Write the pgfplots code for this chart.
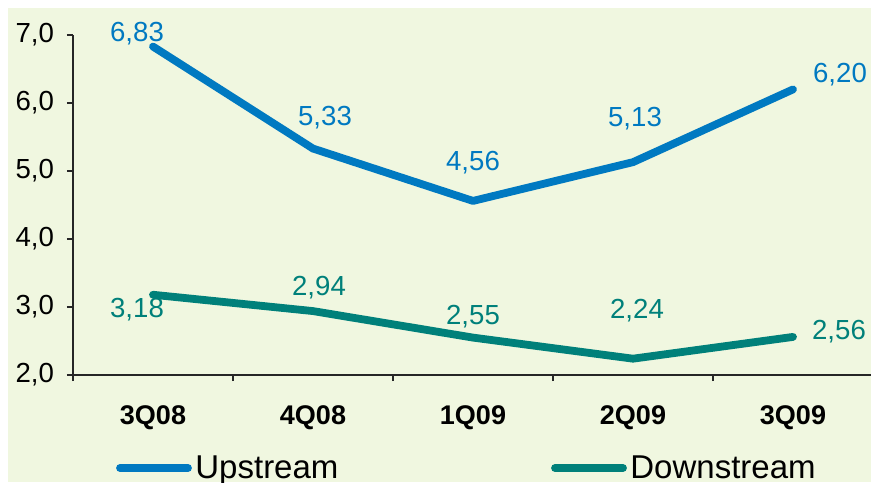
\documentclass[border=0pt]{standalone}
\usepackage{pgfplots}
\pgfplotsset{compat=1.18}
\usepackage{fontspec}
\setmainfont{Liberation Sans}
\definecolor{bgc}{RGB}{240,247,224}
\definecolor{upc}{RGB}{0,121,193}
\definecolor{dnc}{RGB}{0,128,122}
\begin{document}
\begin{tikzpicture}
\useasboundingbox (-36.5pt,-53.5pt) rectangle (399pt,187.5pt);
\fill[bgc] (-32.5pt,-53.5pt) rectangle (399pt,183.5pt);
\begin{axis}[
  scale only axis, width=400pt, height=170pt,
  at={(0,0)}, anchor=south west,
  xmin=-0.5, xmax=4.5, ymin=2, ymax=7,
  axis lines*=left,
  axis line style={-, black!85, line width=0.6pt},
  xtick={0,1,2,3,4},
  xticklabels={3Q08,4Q08,1Q09,2Q09,3Q09},
  minor xtick={-0.5,0.5,1.5,2.5,3.5,4.5},
  major x tick style={draw=none},
  minor x tick style={black!85, line width=0.6pt},
  ytick={2,3,4,5,6,7},
  yticklabel={\pgfmathprintnumber[fixed,fixed zerofill,precision=1,use comma]{\tick}},
  y tick style={black!85, line width=0.6pt},
  tick align=outside,
  major tick length=3pt, minor tick length=3pt,
  /pgf/number format/assume math mode=true,
  yticklabel style={font=\fontsize{13.8}{16}\selectfont, xshift=-3pt},
  xticklabel style={font=\fontsize{13.5}{16}\selectfont\bfseries, yshift=-9pt},
  clip=false,
]
\addplot[upc, line width=3.9pt, line cap=round, line join=round] coordinates {(0,6.83) (1,5.33) (2,4.56) (3,5.13) (4,6.20)};
\addplot[dnc, line width=3.9pt, line cap=round, line join=round] coordinates {(0,3.18) (1,2.94) (2,2.55) (3,2.24) (4,2.56)};
\begin{scope}[font=\fontsize{13.8}{16}\selectfont, inner sep=0pt]
\node[upc, xshift=-8pt, yshift=6.3pt] at (axis cs:0,6.83) {6,83};
\node[upc, xshift=6pt, yshift=15.5pt] at (axis cs:1,5.33) {5,33};
\node[upc, xshift=0pt, yshift=19pt] at (axis cs:2,4.56) {4,56};
\node[upc, xshift=1pt, yshift=22pt] at (axis cs:3,5.13) {5,13};
\node[upc, xshift=23.5pt, yshift=7.5pt] at (axis cs:4,6.20) {6,20};
\node[dnc, xshift=-8pt, yshift=-7.5pt] at (axis cs:0,3.18) {3,18};
\node[dnc, xshift=3pt, yshift=11.5pt] at (axis cs:1,2.94) {2,94};
\node[dnc, xshift=0pt, yshift=10.5pt] at (axis cs:2,2.55) {2,55};
\node[dnc, xshift=2pt, yshift=24pt] at (axis cs:3,2.24) {2,24};
\node[dnc, xshift=23pt, yshift=2.5pt] at (axis cs:4,2.56) {2,56};
\end{scope}
\end{axis}
\draw[upc, line width=3.9pt, line cap=round] (23.5pt,-46.5pt) -- (57.5pt,-46.5pt);
\node[anchor=base west, inner sep=0pt, font=\fontsize{16.5}{19}\selectfont] at (61pt,-51.5pt) {Upstream};
\draw[dnc, line width=3.9pt, line cap=round] (241pt,-46.5pt) -- (275pt,-46.5pt);
\node[anchor=base west, inner sep=0pt, font=\fontsize{16.5}{19}\selectfont] at (278.5pt,-51.5pt) {Downstream};
\end{tikzpicture}
\end{document}
